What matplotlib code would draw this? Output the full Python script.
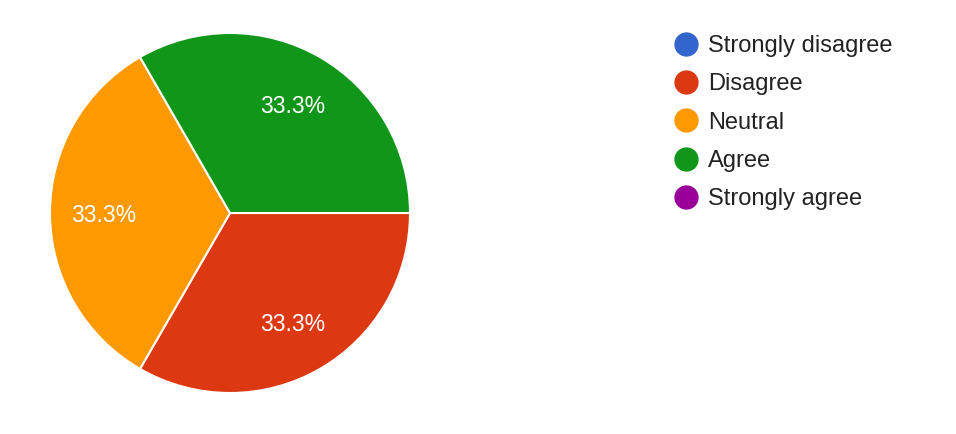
import matplotlib.pyplot as plt
from matplotlib.lines import Line2D

plt.rcParams['font.family'] = ['Liberation Sans', 'DejaVu Sans']

labels = ["Strongly disagree", "Disagree", "Neutral", "Agree", "Strongly agree"]
counts = [0, 1, 1, 1, 0]
colors = ["#3366cc", "#dc3912", "#ff9900", "#109618", "#990099"]

W, H = 956, 434
fig = plt.figure(figsize=(W / 100, H / 100), dpi=100)

# pie: centre (230, 213) px, radius 180 px
cx, cy, r = 230, 213, 180
ax = fig.add_axes([(cx - r) / W, (H - cy - r) / H, 2 * r / W, 2 * r / H])

# zero slices are not drawn, but stay in the legend
vals = [v for v in counts if v > 0]
cols = [c for v, c in zip(counts, colors) if v > 0]
wedges, texts, autotexts = ax.pie(
    vals, colors=cols, startangle=0, counterclock=False,
    autopct="%1.1f%%", pctdistance=0.7, radius=1,
    wedgeprops=dict(edgecolor="white", linewidth=1.5),
    textprops=dict(color="white", fontsize=16.5))
for t in autotexts:
    x, y = t.get_position()
    t.set_position((x, y - 0.015))
ax.set_xlim(-1, 1)
ax.set_ylim(-1, 1)

handles = [Line2D([], [], marker="o", linestyle="", markersize=16.5,
                  markerfacecolor=c, markeredgecolor=c) for c in colors]
leg = fig.legend(handles, labels, loc="upper left",
                 bbox_to_anchor=(674 / W, 1 - 35 / H),
                 frameon=False, fontsize=17, labelspacing=0.69,
                 handlelength=1.0, handletextpad=0.45, borderpad=0,
                 borderaxespad=0)
for t in leg.get_texts():
    t.set_color("#222222")

fig.savefig("out.png", dpi=100)
